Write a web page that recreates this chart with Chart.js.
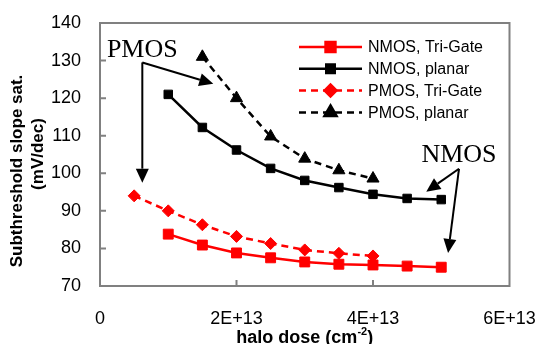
<!DOCTYPE html>
<html>
<head>
<meta charset="utf-8">
<script src="https://cdn.jsdelivr.net/npm/chart.js@4.4.1/dist/chart.umd.min.js"></script>
<style>
  html, body { margin: 0; padding: 0; background: #fff; }
  #wrap { width: 539px; height: 344px; position: relative; }
</style>
</head>
<body>
<div id="wrap"><canvas id="chart"></canvas></div>
<script>
// halo dose in units of 1E13 cm^-2
const doseNmosTri = [1, 1.5, 2, 2.5, 3, 3.5, 4, 4.5, 5];
const nmosTriGate = [83.8, 80.9, 78.8, 77.5, 76.4, 75.8, 75.6, 75.3, 75.0];

const doseNmosPlanar = [1, 1.5, 2, 2.5, 3, 3.5, 4, 4.5, 5];
const nmosPlanar = [121.0, 112.2, 106.2, 101.3, 98.1, 96.2, 94.4, 93.3, 93.0];

const dosePmosTri = [0.5, 1, 1.5, 2, 2.5, 3, 3.5, 4];
const pmosTriGate = [94.0, 90.0, 86.3, 83.2, 81.3, 79.6, 78.7, 78.0];

const dosePmosPlanar = [1.5, 2, 2.5, 3, 3.5, 4];
const pmosPlanar = [131.0, 120.0, 109.8, 103.9, 100.8, 98.6];

const seriesLabels = ['NMOS, Tri-Gate', 'NMOS, planar', 'PMOS, Tri-Gate', 'PMOS, planar'];
const xTicks = [0, 2e13, 4e13, 6e13];
const yTicks = [70, 80, 90, 100, 110, 120, 130, 140];

// annotation arrows in data units: [fromX, fromY, toX, toY]
const pmosArrows = [[0.62e13, 129.5, 0.62e13, 97.5], [0.62e13, 129.5, 1.66e13, 123.8]];
const nmosArrows = [[5.26e13, 101.2, 4.78e13, 95.1], [5.26e13, 101.2, 5.10e13, 78.8]];

const FRAME = 'rgb(128,128,128)';
const SANS = '"Liberation Sans", Arial, sans-serif';

const toPts = (xs, ys) => xs.map((x, i) => ({ x: x * 1e13, y: ys[i] }));

const datasets = [
    { label: seriesLabels[0], data: toPts(doseNmosTri, nmosTriGate), borderColor: '#ff0000', backgroundColor: '#ff0000',
      borderWidth: 2.5, pointStyle: 'rect', pointRadius: 7, borderDash: [] },
    { label: seriesLabels[1], data: toPts(doseNmosPlanar, nmosPlanar), borderColor: '#000', backgroundColor: '#000',
      borderWidth: 2.5, pointStyle: 'rect', pointRadius: 6, borderDash: [] },
    { label: seriesLabels[2], data: toPts(dosePmosTri, pmosTriGate), borderColor: '#ff0000', backgroundColor: '#ff0000',
      borderWidth: 2.5, pointStyle: 'rectRot', pointRadius: 6, borderDash: [7, 5] },
    { label: seriesLabels[3], data: toPts(dosePmosPlanar, pmosPlanar), borderColor: '#000', backgroundColor: '#000',
      borderWidth: 2.5, pointStyle: 'triangle', pointRadius: 7, borderDash: [7, 5] }
];
datasets.forEach(d => { d.pointBorderWidth = 1; d.pointBorderColor = d.borderColor; d.tension = 0; });

function arrow(ctx, x1, y1, x2, y2) {
    const a = Math.atan2(y2 - y1, x2 - x1);
    const len = 14, half = 6.5;
    const bx = x2 - len * Math.cos(a), by = y2 - len * Math.sin(a);
    ctx.beginPath();
    ctx.moveTo(x1, y1);
    ctx.lineTo(bx, by);
    ctx.stroke();
    ctx.beginPath();
    ctx.moveTo(x2, y2);
    ctx.lineTo(bx + half * Math.sin(a), by - half * Math.cos(a));
    ctx.lineTo(bx - half * Math.sin(a), by + half * Math.cos(a));
    ctx.closePath();
    ctx.fill();
}

const notesPlugin = {
    id: 'notes',
    afterDraw(chart) {
        const { ctx, chartArea: a, scales } = chart;
        const sx = scales.x, sy = scales.y;
        ctx.save();
        ctx.setLineDash([]);
        ctx.globalAlpha = 1;
        ctx.globalCompositeOperation = 'source-over';

        // grey plot frame and inward tick marks
        ctx.strokeStyle = FRAME;
        ctx.lineWidth = 2;
        ctx.beginPath();
        ctx.rect(a.left, a.top, a.right - a.left, a.bottom - a.top);
        yTicks.forEach(v => {
            const y = sy.getPixelForValue(v);
            ctx.moveTo(a.left, y); ctx.lineTo(a.left + 6, y);
        });
        xTicks.forEach(v => {
            const x = sx.getPixelForValue(v);
            ctx.moveTo(x, a.bottom); ctx.lineTo(x, a.bottom - 6);
        });
        ctx.stroke();

        // arrows and labels
        ctx.strokeStyle = '#000';
        ctx.fillStyle = '#000';
        ctx.lineWidth = 2;
        pmosArrows.concat(nmosArrows).forEach(r => {
            arrow(ctx, sx.getPixelForValue(r[0]), sy.getPixelForValue(r[1]),
                       sx.getPixelForValue(r[2]), sy.getPixelForValue(r[3]));
        });
        ctx.font = '26px "Liberation Serif", "Times New Roman", serif';
        ctx.textAlign = 'center';
        ctx.textBaseline = 'alphabetic';
        ctx.fillText('PMOS', sx.getPixelForValue(0.62e13), sy.getPixelForValue(130.9));
        ctx.fillText('NMOS', sx.getPixelForValue(5.26e13), sy.getPixelForValue(103.1));

        // legend
        ctx.font = '16px ' + SANS;
        ctx.textAlign = 'left';
        ctx.textBaseline = 'middle';
        chart.data.datasets.forEach((d, i) => {
            const y = a.top + 24 + i * 21.8;
            const x0 = a.left + 199, x1 = a.left + 262;
            ctx.strokeStyle = d.borderColor;
            ctx.fillStyle = d.backgroundColor;
            ctx.lineWidth = 2.5;
            ctx.setLineDash(d.borderDash);
            ctx.beginPath();
            ctx.moveTo(x0, y); ctx.lineTo(x1, y);
            ctx.stroke();
            ctx.setLineDash([]);
            Chart.helpers.drawPoint(ctx, { pointStyle: d.pointStyle, radius: d.pointRadius, borderWidth: 1, rotation: 0 }, (x0 + x1) / 2, y);
            ctx.fill();
            ctx.fillStyle = '#000';
            ctx.fillText(d.label, x1 + 6, y + 1);
        });

        // axis titles
        ctx.fillStyle = '#000';
        ctx.font = 'bold 18px ' + SANS;
        const base = 'halo dose (cm';
        const wBase = ctx.measureText(base).width;
        ctx.font = 'bold 11px ' + SANS;
        const wSup = ctx.measureText('-2').width;
        ctx.font = 'bold 18px ' + SANS;
        const wEnd = ctx.measureText(')').width;
        let tx = (a.left + a.right) / 2 - (wBase + wSup + wEnd) / 2;
        const ty = 338;
        ctx.textBaseline = 'middle';
        ctx.fillText(base, tx, ty);
        tx += wBase;
        ctx.font = 'bold 11px ' + SANS;
        ctx.fillText('-2', tx, ty - 6);
        tx += wSup;
        ctx.font = 'bold 18px ' + SANS;
        ctx.fillText(')', tx, ty);

        ctx.font = 'bold 17px ' + SANS;
        ctx.textAlign = 'center';
        ctx.save();
        ctx.translate(17, 171);
        ctx.rotate(-Math.PI / 2);
        ctx.fillText('Subthreshold slope sat.', 0, 0);
        ctx.restore();
        ctx.save();
        ctx.translate(38, 154);
        ctx.rotate(-Math.PI / 2);
        ctx.fillText('(mV/dec)', 0, 0);
        ctx.restore();
        ctx.restore();
    }
};

new Chart(document.getElementById('chart'), {
    type: 'line',
    data: { datasets: datasets },
    plugins: [notesPlugin],
    options: {
        responsive: true,
        maintainAspectRatio: false,
        animation: false,
        layout: { padding: { top: 23, right: 0, left: 0, bottom: 0 } },
        plugins: { legend: { display: false }, tooltip: { enabled: false } },
        scales: {
            x: {
                type: 'linear', min: 0, max: 6e13,
                afterBuildTicks: s => { s.ticks = xTicks.map(v => ({ value: v })); },
                afterFit: s => { s.height = 58; s.paddingLeft = 0; s.paddingRight = 29.5; },
                grid: { display: true, drawOnChartArea: false, drawTicks: false, color: FRAME },
                border: { display: true, color: FRAME, width: 2 },
                ticks: {
                    padding: 22, color: '#000',
                    font: { family: SANS, size: 18 },
                    callback: v => v === 0 ? '0' : (v / 1e13) + 'E+13'
                }
            },
            y: {
                min: 70, max: 140,
                afterBuildTicks: s => { s.ticks = yTicks.map(v => ({ value: v })); },
                afterFit: s => { s.width = 100; s.paddingTop = 0; s.paddingBottom = 0; },
                grid: { display: true, drawOnChartArea: false, drawTicks: false, color: FRAME },
                border: { display: true, color: FRAME, width: 2 },
                ticks: {
                    padding: 19, color: '#000',
                    font: { family: SANS, size: 18 }
                }
            }
        }
    }
});
</script>
</body>
</html>
